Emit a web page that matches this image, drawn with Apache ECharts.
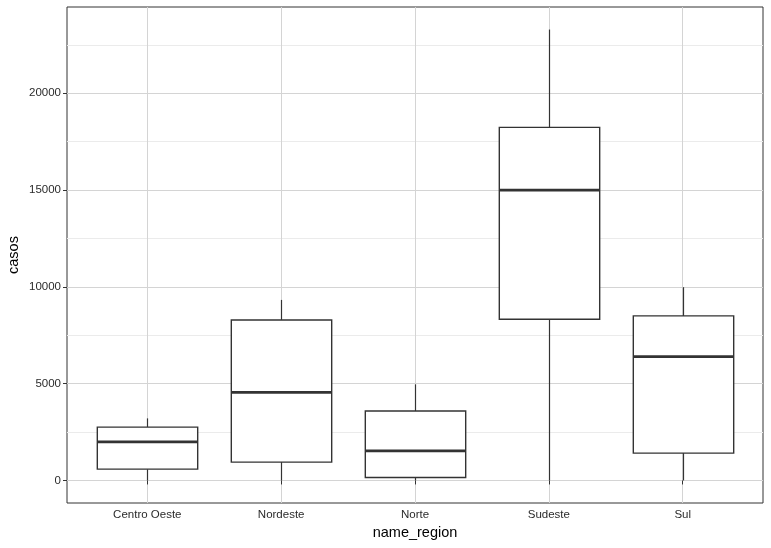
<!DOCTYPE html>
<html>
<head>
<meta charset="utf-8">
<script src="https://cdn.jsdelivr.net/npm/echarts@6/dist/echarts.min.js"></script>
<style>
html,body{margin:0;padding:0;background:#fff;}
#chart{width:771px;height:548px;}
</style>
</head>
<body>
<div id="chart"></div>
<script>
const categories = ['Centro Oeste', 'Nordeste', 'Norte', 'Sudeste', 'Sul'];
const minimum = [0, 0, 0, 0, 0];
const lowerQuartile = [585, 947, 155, 8329, 1412];
const median = [1997, 4552, 1531, 15003, 6394];
const upperQuartile = [2757, 8293, 3585, 18241, 8500];
const maximum = [3207, 9327, 4966, 23295, 9984];
const yMajorTicks = [0, 5000, 10000, 15000, 20000];
const yMinorTicks = [2500, 7500, 12500, 17500, 22500];
const xAxisTitle = 'name_region';
const yAxisTitle = 'casos';

// ggplot-like expansion (5% continuous, 0.6 units discrete)
const lo = Math.min(...minimum), hi = Math.max(...maximum);
const pad = (hi - lo) * 0.05;
const yMin = lo - pad, yMax = hi + pad;
const xPositions = categories.map((c, i) => i + 1);

const boxData = categories.map((c, i) => [
  i + 1, minimum[i], lowerQuartile[i], median[i], upperQuartile[i], maximum[i]
]);

const ink = '#333333';
const font = 'Liberation Sans, Arial, Helvetica, sans-serif';

function renderBox(params, api) {
  const x = api.value(0);
  const half = api.size([0.75, 0])[0] / 2;
  const pMin = api.coord([x, api.value(1)]);
  const pQ1 = api.coord([x, api.value(2)]);
  const pMed = api.coord([x, api.value(3)]);
  const pQ3 = api.coord([x, api.value(4)]);
  const pMax = api.coord([x, api.value(5)]);
  const cx = Math.round(pMed[0]) + 0.5;
  return {
    type: 'group',
    children: [
      { type: 'line', shape: { x1: cx, y1: pMax[1], x2: cx, y2: pQ3[1] },
        style: { stroke: ink, lineWidth: 1.2 } },
      { type: 'line', shape: { x1: cx, y1: pQ1[1], x2: cx, y2: pMin[1] },
        style: { stroke: ink, lineWidth: 1.2 } },
      { type: 'rect', shape: { x: cx - half, y: pQ3[1], width: half * 2, height: pQ1[1] - pQ3[1] },
        style: { fill: '#ffffff', stroke: ink, lineWidth: 1.4 } },
      { type: 'line', shape: { x1: cx - half, y1: pMed[1], x2: cx + half, y2: pMed[1] },
        style: { stroke: ink, lineWidth: 2.7 } }
    ]
  };
}

const chart = echarts.init(document.getElementById('chart'), null, { renderer: 'canvas' });
chart.setOption({
  animation: false,
  backgroundColor: '#ffffff',
  grid: {
    left: 67, right: 8, top: 7, bottom: 45,
    containLabel: false,
    outerBoundsMode: 'none',
    show: true, borderColor: ink, borderWidth: 1, backgroundColor: '#ffffff'
  },
  xAxis: {
    type: 'value',
    min: 0.4, max: categories.length + 0.6,
    name: xAxisTitle,
    nameLocation: 'middle',
    nameGap: 22,
    nameMoveOverlap: false,
    nameTextStyle: { color: '#000', fontSize: 14.5, fontFamily: font },
    axisLine: { show: false },
    axisTick: { show: true, customValues: xPositions, length: 4, lineStyle: { color: ink, width: 1 } },
    axisLabel: {
      customValues: xPositions,
      formatter: v => categories[Math.round(v) - 1] || '',
      color: '#2b2b2b', fontSize: 11.5, fontFamily: font, margin: 6
    },
    splitLine: { show: true, lineStyle: { color: '#d4d4d4', width: 1 } }
  },
  yAxis: [{
    type: 'value',
    min: yMin, max: yMax,
    name: yAxisTitle,
    nameLocation: 'middle',
    nameGap: 46,
    nameMoveOverlap: false,
    nameTextStyle: { color: '#000', fontSize: 14.5, fontFamily: font },
    axisLine: { show: false },
    axisTick: { show: true, customValues: yMajorTicks, length: 4, lineStyle: { color: ink, width: 1 } },
    axisLabel: {
      customValues: yMajorTicks,
      formatter: v => String(Math.round(v)),
      color: '#2b2b2b', fontSize: 11.5, fontFamily: font, margin: 6
    },
    splitLine: { show: true, lineStyle: { color: '#d4d4d4', width: 1 } }
  }, {
    type: 'value',
    position: 'left',
    min: yMin, max: yMax,
    axisLine: { show: false },
    axisTick: { show: false, customValues: yMinorTicks },
    axisLabel: { show: false, customValues: yMinorTicks },
    splitLine: { show: true, lineStyle: { color: '#ebebeb', width: 1 } }
  }],
  series: [{
    type: 'custom',
    renderItem: renderBox,
    data: boxData,
    encode: { x: 0, y: [1, 2, 3, 4, 5] },
    clip: true,
    z: 5
  }]
});
</script>
</body>
</html>
